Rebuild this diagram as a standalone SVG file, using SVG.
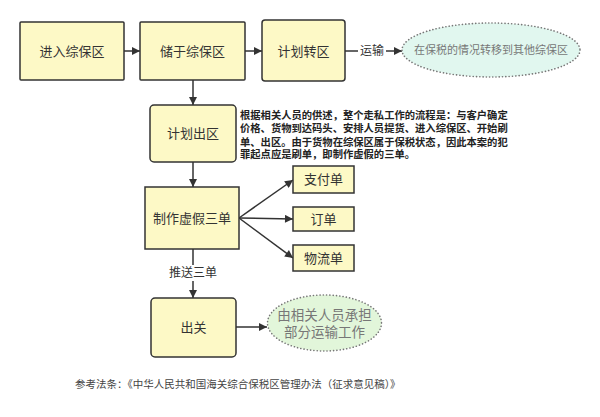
<svg xmlns="http://www.w3.org/2000/svg" width="600" height="417" viewBox="0 0 600 417">
<style>
text{font-family:"Liberation Sans","Noto Sans CJK SC",sans-serif}
.box{fill:#fdf9c6;stroke:#333;stroke-width:1.5}
.t{font-size:13px;fill:#333;text-anchor:middle;dominant-baseline:central}
.lbl{font-size:12px;fill:#333;text-anchor:middle;dominant-baseline:central}
.e{stroke:#777;stroke-width:1.6;stroke-dasharray:0.1 3.2;stroke-linecap:round}
.et{fill:#777;text-anchor:middle;dominant-baseline:central}
.c{stroke:#333;stroke-width:1.5;fill:none;marker-end:url(#ah)}
.note{font-size:10.3px;font-weight:bold;fill:#222}
</style>
<defs>
<marker id="ah" viewBox="0 0 10 10" refX="10" refY="5" markerWidth="9" markerHeight="8" markerUnits="userSpaceOnUse" orient="auto">
<path d="M0,0 L10,5 L0,10 z" fill="#333"/>
</marker>
</defs>
<rect width="600" height="417" fill="#fff"/>
<g id="connectors">
<line class="c" x1="124" y1="51" x2="140" y2="51"/>
<line class="c" x1="245" y1="51" x2="262" y2="51"/>
<line class="c" x1="345" y1="51" x2="402" y2="51"/>
<line class="c" x1="193" y1="80" x2="193" y2="105"/>
<line class="c" x1="193" y1="162" x2="193" y2="187"/>
<line class="c" x1="193" y1="249" x2="193" y2="298"/>
<line class="c" x1="239" y1="218" x2="293" y2="180"/>
<line class="c" x1="239" y1="218" x2="293" y2="219"/>
<line class="c" x1="239" y1="218" x2="293" y2="258"/>
<line class="c" x1="236" y1="327" x2="267" y2="327"/>
<rect x="358" y="43" width="28" height="16" fill="#fff"/>
<text class="lbl" x="372" y="51">运输</text>
<rect x="164" y="265" width="58" height="16" fill="#fff"/>
<text class="lbl" x="193" y="273">推送三单</text>
</g>
<g id="n1"><rect class="box" x="20" y="22" width="104" height="58" rx="1"/><text class="t" x="72" y="51">进入综保区</text></g>
<g id="n2"><rect class="box" x="140" y="22" width="105" height="58" rx="1"/><text class="t" x="192.5" y="51">储于综保区</text></g>
<g id="n3"><rect class="box" x="262" y="20" width="83" height="61" rx="3"/><text class="t" x="303.5" y="51">计划转区</text></g>
<g id="n4"><ellipse class="e" cx="491" cy="50" rx="89" ry="27" fill="#e1f7ef"/><text class="et" x="491" y="50" font-size="11">在保税的情况转移到其他综保区</text></g>
<g id="n5"><rect class="box" x="150" y="105" width="86" height="57" rx="4"/><text class="t" x="193" y="133.5">计划出区</text></g>
<g id="note">
<text class="note" x="240" y="119">根据相关人员的供述，整个走私工作的流程是：与客户确定</text>
<text class="note" x="240" y="132">价格、货物到达码头、安排人员提货、进入综保区、开始刷</text>
<text class="note" x="240" y="145.5">单、出区。由于货物在综保区属于保税状态，因此本案的犯</text>
<text class="note" x="240" y="158">罪起点应是刷单，即制作虚假的三单。</text>
</g>
<g id="n6"><rect class="box" x="145" y="187" width="94" height="62"/><text class="t" x="192" y="218">制作虚假三单</text></g>
<g id="n7"><rect class="box" x="293" y="166" width="61" height="27"/><text class="t" x="323.5" y="179.5">支付单</text></g>
<g id="n8"><rect class="box" x="293" y="207" width="61" height="24"/><text class="t" x="323.5" y="219">订单</text></g>
<g id="n9"><rect class="box" x="293" y="245" width="61" height="26"/><text class="t" x="323.5" y="258">物流单</text></g>
<g id="n10"><rect class="box" x="151" y="298" width="85" height="59" rx="4"/><text class="t" x="193.5" y="327.5">出关</text></g>
<g id="n11"><ellipse class="e" cx="324.5" cy="323" rx="57" ry="28" fill="#e2f6da"/><text class="et" x="324.5" y="315.5" font-size="13.5">由相关人员承担</text><text class="et" x="324.5" y="332.5" font-size="13.5">部分运输工作</text></g>
<text x="75" y="384" font-size="10.5" fill="#444" dominant-baseline="central">参考法条：《中华人民共和国海关综合保税区管理办法（征求意见稿）》</text>
</svg>
